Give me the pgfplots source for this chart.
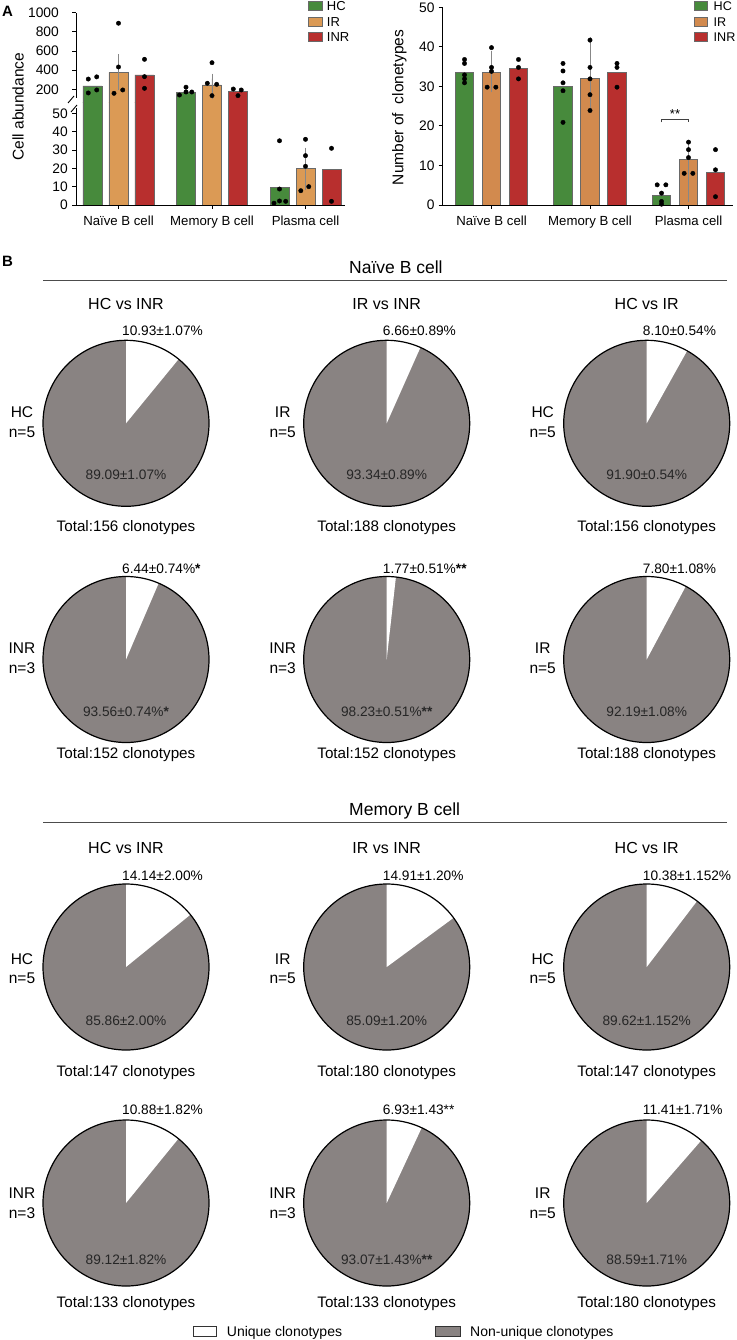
\documentclass[border=0pt]{standalone}
\usepackage{pgfplots}
\pgfplotsset{compat=1.18}
\usepackage{pgfplotstable}
\usepackage{fontspec}
\setmainfont{Liberation Sans}

\definecolor{hcg}{RGB}{71,138,60}
\definecolor{irA}{RGB}{219,154,85}
\definecolor{irB}{RGB}{210,138,78}
\definecolor{inr}{RGB}{184,47,46}
\definecolor{piegray}{RGB}{137,131,130}
\definecolor{errgray}{RGB}{135,135,135}
\definecolor{bordergray}{RGB}{105,105,105}

\newcommand{\fs}[1]{\fontsize{#1pt}{#1pt}\selectfont}

\pgfplotsset{
  barbase/.style={
    scale only axis,
    axis line style={black, line width=0.9pt},
    tick style={black, line width=0.9pt},
    tick align=outside, major tick length=4pt,
    ticklabel style={font=\fs{13.8}, inner sep=0pt},
    /pgf/number format/assume math mode=true,
    /pgf/number format/1000 sep={},
    enlargelimits=false,
    xtick={0,1,2},
    xticklabels={Naïve B cell,Memory B cell,Plasma cell},
    xticklabel style={font=\fs{13.2}, yshift=-7pt},
  },
  errstyle/.style={error bars/.cd, y dir=both, y explicit,
    error bar style={errgray, line width=0.9pt},
    error mark options={errgray, line width=0.9pt, mark size=5pt}},
}

% ---------- Panel A: cell abundance (mean, +err, -err) ----------
\pgfplotstableread{
x y ep em
0 235 35 35
1 165 20 15
}\AupHC
\pgfplotstableread{
x y ep em
0 377 136 136
1 245 66 60
}\AupIR
\pgfplotstableread{
x y ep em
0 350 90 88
1 175 25 25
}\AupINR
\pgfplotstableread{
x y ep em
2 9.5 6.7 6.5
}\AloHC
\pgfplotstableread{
x y ep em
2 20.2 5.4 5.2
}\AloIR
\pgfplotstableread{
x y ep em
2 19.5 9.0 8.6
}\AloINR
\pgfplotstableread{
x y
-0.323 307
-0.233 330
-0.323 162
-0.233 193
0 890
0 433
-0.048 158
0.045 193
0.278 513
0.278 332
0.278 210
0.652 140
0.722 222
0.722 172
0.784 172
1 478
0.95 263
1.05 252
1 134
1.228 203
1.313 193
1.278 134
}\AdotsUp
\pgfplotstableread{
x y
1.722 35
1.722 8.7
1.663 1
1.722 2.2
1.788 2
2 35.8
2 26.9
2 21.1
1.95 7.8
2.035 10
2.278 30.9
2.278 2
}\AdotsLo

% ---------- Panel A: number of clonotypes ----------
\pgfplotstableread{
x y ep em
0 33.6 2.6 2.6
1 30.0 5.8 5.7
2 2.5 2.4 2.5
}\BHC
\pgfplotstableread{
x y ep em
0 33.6 4.2 3.8
1 32.0 9.2 6.8
2 11.5 3.5 3.5
}\BIR
\pgfplotstableread{
x y ep em
0 34.5 2.5 2.6
1 33.5 3.2 3.2
2 8.2 6.0 6.1
}\BINR
\pgfplotstableread{
x y
-0.274 36.8
-0.274 35.8
-0.274 32.9
-0.274 31.9
-0.274 30.9
0.726 35.8
0.726 33.9
0.726 30.9
0.726 28.9
0.726 20.9
1.682 5.1
1.770 5.1
1.726 3.0
1.726 0.9
1.726 0.2
0 39.8
0 34.8
0 33.8
-0.044 29.8
0.044 29.8
1 41.7
1 34.8
1 31.9
1 27.9
1 23.9
2 15.9
2 14.0
2 12.0
1.956 8.0
2.044 8.0
0.274 36.8
0.274 34.8
0.274 31.9
1.274 35.8
1.274 34.8
1.274 29.8
2.274 14.0
2.274 8.9
2.274 2.1
}\Bdots

% ---------- Panel B: pies ----------
\newcommand{\pie}[3]{%
  \begin{axis}[at={(#1pt,-#2pt)}, anchor=center, hide axis, scale only axis,
    width=166pt, height=166pt, xmin=-1, xmax=1, ymin=-1, ymax=1, clip=false]
    \fill[piegray] (axis cs:0,0) circle[radius=83pt];
    \fill[white] (axis cs:0,0) -- ++(90:83pt) arc[start angle=90, delta angle=-3.6*#3, radius=83pt] -- cycle;
    \draw[line width=1.2pt] (axis cs:0,0) circle[radius=83pt];
  \end{axis}}
\newcommand{\cell}[8]{%
  \pie{#1}{#2}{#3}%
  \node[anchor=base west,inner sep=0pt,font=\fs{13.7}] at ({#1pt-4pt},{-\tb}) {#4};
  \node[anchor=base,inner sep=0pt,font=\fs{13.7},text=black!85] at (#1pt,{-\bb}) {#5};
  \node[anchor=base,inner sep=0pt,font=\fs{15.2}] at (#1pt,{-\ob}) {Total:#6 clonotypes};
  \node[anchor=base,inner sep=0pt,font=\fs{15.5}] at ({#1pt-104pt},{-\ra}) {#7};
  \node[anchor=base,inner sep=0pt,font=\fs{15.5}] at ({#1pt-104pt},{-\rb}) {#8};
}

\begin{document}
\begin{tikzpicture}
\useasboundingbox (0,0) rectangle (736pt,-1340pt);

% ===== A left, upper part =====
\begin{axis}[barbase, at={(76pt,-103pt)}, anchor=south west, width=269pt, height=90.3pt,
  xmin=-0.4545, xmax=2.4225, ymin=57, ymax=1000,
  axis x line=none, axis y line*=left,
  ytick={200,400,600,800,1000}, yticklabel style={xshift=-13pt}]
  \addplot[ybar, bar width=19pt, bar shift=-26pt, fill=hcg, draw=bordergray, line width=0.7pt, errstyle]
    table[x=x,y=y,y error plus=ep,y error minus=em] {\AupHC};
  \addplot[ybar, bar width=19pt, bar shift=0pt, fill=irA, draw=bordergray, line width=0.7pt, errstyle]
    table[x=x,y=y,y error plus=ep,y error minus=em] {\AupIR};
  \addplot[ybar, bar width=19pt, bar shift=26pt, fill=inr, draw=bordergray, line width=0.7pt, errstyle]
    table[x=x,y=y,y error plus=ep,y error minus=em] {\AupINR};
  \addplot[only marks, mark=*, mark size=2.2pt, black] table[x=x,y=y] {\AdotsUp};
\end{axis}

% ===== A left, lower part =====
\begin{axis}[barbase, at={(76pt,-205pt)}, anchor=south west, width=269pt, height=102pt,
  xmin=-0.4545, xmax=2.4225, ymin=0, ymax=55.6,
  axis x line*=bottom, axis y line*=left,
  ytick={0,10,20,30,40,50}, yticklabel style={xshift=-4pt}]
  \addplot[ybar, bar width=19pt, bar shift=-26pt, fill=hcg, draw=bordergray, line width=0.7pt]
    table[x=x,y=y] {\AupHC};
  \addplot[ybar, bar width=19pt, bar shift=0pt, fill=irA, draw=bordergray, line width=0.7pt]
    table[x=x,y=y] {\AupIR};
  \addplot[ybar, bar width=19pt, bar shift=26pt, fill=inr, draw=bordergray, line width=0.7pt]
    table[x=x,y=y] {\AupINR};
  \addplot[ybar, bar width=19pt, bar shift=-26pt, fill=hcg, draw=bordergray, line width=0.7pt, errstyle]
    table[x=x,y=y,y error plus=ep,y error minus=em] {\AloHC};
  \addplot[ybar, bar width=19pt, bar shift=0pt, fill=irA, draw=bordergray, line width=0.7pt, errstyle]
    table[x=x,y=y,y error plus=ep,y error minus=em] {\AloIR};
  \addplot[ybar, bar width=19pt, bar shift=26pt, fill=inr, draw=bordergray, line width=0.7pt, errstyle]
    table[x=x,y=y,y error plus=ep,y error minus=em] {\AloINR};
  \addplot[only marks, mark=*, mark size=2.2pt, black] table[x=x,y=y] {\AdotsLo};
\end{axis}

% axis break
\fill[white] (70pt,-98pt) rectangle (80pt,-108pt);
\draw[line width=0.9pt] (68pt,-103pt) -- (74pt,-96pt);
\draw[line width=0.9pt] (71pt,-112pt) -- (77pt,-105pt);

\node[anchor=base west, inner sep=0pt, font=\bfseries\fs{15}] at (2pt,-16.4pt) {A};
\node[rotate=90, inner sep=0pt, font=\fs{15.5}] at (18pt,-106.7pt) {Cell abundance};

% legend A left
\draw[bordergray, line width=0.7pt, fill=hcg] (308pt,-1.5pt) rectangle (322pt,-10.5pt);
\draw[bordergray, line width=0.7pt, fill=irA] (308pt,-17.2pt) rectangle (322pt,-26.2pt);
\draw[bordergray, line width=0.7pt, fill=inr] (308pt,-32.2pt) rectangle (322pt,-41.2pt);
\node[anchor=base west, inner sep=0pt, font=\fs{13}] at (326.7pt,-10.6pt) {HC};
\node[anchor=base west, inner sep=0pt, font=\fs{13}] at (326.7pt,-26.3pt) {IR};
\node[anchor=base west, inner sep=0pt, font=\fs{13}] at (326.7pt,-41.3pt) {INR};

% ===== A right =====
\begin{axis}[barbase, at={(442.7pt,-205pt)}, anchor=south west, width=290pt, height=197.7pt,
  xmin=-0.4954, xmax=2.4487, ymin=0, ymax=50,
  axis x line*=bottom, axis y line*=left,
  ytick={0,10,20,30,40,50}, yticklabel style={xshift=-4pt}]
  \addplot[ybar, bar width=18.5pt, bar shift=-27pt, fill=hcg, draw=bordergray, line width=0.7pt, errstyle]
    table[x=x,y=y,y error plus=ep,y error minus=em] {\BHC};
  \addplot[ybar, bar width=18.5pt, bar shift=0pt, fill=irB, draw=bordergray, line width=0.7pt, errstyle]
    table[x=x,y=y,y error plus=ep,y error minus=em] {\BIR};
  \addplot[ybar, bar width=18.5pt, bar shift=27pt, fill=inr, draw=bordergray, line width=0.7pt, errstyle]
    table[x=x,y=y,y error plus=ep,y error minus=em] {\BINR};
  \addplot[only marks, mark=*, mark size=2.2pt, black] table[x=x,y=y] {\Bdots};
  \draw[line width=0.8pt, black!75] (axis cs:1.726,20.9) -- (axis cs:1.726,21.6) -- (axis cs:2,21.6) -- (axis cs:2,20.9);
  \node[anchor=base, inner sep=0pt, font=\fs{13}] at (axis cs:1.863,21.9) {**};
\end{axis}
\node[rotate=90, inner sep=0pt, font=\fs{15.5}] at (399.3pt,-107.5pt) {Number of~ clonetypes};

% legend A right
\draw[bordergray, line width=0.7pt, fill=hcg] (694.3pt,-1.5pt) rectangle (707.7pt,-10.5pt);
\draw[bordergray, line width=0.7pt, fill=irB] (694.3pt,-17.2pt) rectangle (707.7pt,-26.2pt);
\draw[bordergray, line width=0.7pt, fill=inr] (694.3pt,-32.2pt) rectangle (707.7pt,-41.2pt);
\node[anchor=base west, inner sep=0pt, font=\fs{12.6}] at (713.5pt,-10.6pt) {HC};
\node[anchor=base west, inner sep=0pt, font=\fs{12.6}] at (713.5pt,-26.3pt) {IR};
\node[anchor=base west, inner sep=0pt, font=\fs{12.6}] at (713.5pt,-41.3pt) {INR};

% ===== B =====
\node[anchor=base west, inner sep=0pt, font=\bfseries\fs{15}] at (2pt,-266pt) {B};
\node[anchor=base west, inner sep=0pt, font=\fs{17.5}] at (349pt,-273pt) {Naïve B cell};
\draw[line width=1pt, black!70] (43pt,-280pt) -- (727pt,-280pt);
\node[anchor=base, inner sep=0pt, font=\fs{16}] at (126pt,-309.2pt) {HC vs INR};
\node[anchor=base, inner sep=0pt, font=\fs{16}] at (386.7pt,-309.2pt) {IR vs INR};
\node[anchor=base, inner sep=0pt, font=\fs{16}] at (646.7pt,-309.2pt) {HC vs IR};

% row 1
\def\tb{335.9pt}\def\bb{479.9pt}\def\ob{531.4pt}\def\ra{417.9pt}\def\rb{437.3pt}
\cell{126}{423.3}{10.93}{10.93±1.07\%}{89.09±1.07\%}{156}{HC}{n=5}
\cell{386.7}{423.3}{6.66}{6.66±0.89\%}{93.34±0.89\%}{188}{IR}{n=5}
\cell{646.7}{423.3}{8.10}{8.10±0.54\%}{91.90±0.54\%}{156}{HC}{n=5}

% row 2
\def\tb{573.2pt}\def\bb{716.6pt}\def\ob{758.7pt}\def\ra{653.9pt}\def\rb{673.9pt}
\cell{126}{659.5}{6.44}{6.44±0.74\%\textbf{*}}{93.56±0.74\%\textbf{*}}{152}{INR}{n=3}
\cell{386.7}{659.5}{1.77}{1.77±0.51\%\textbf{**}}{98.23±0.51\%\textbf{**}}{152}{INR}{n=3}
\cell{646.7}{659.5}{7.80}{7.80±1.08\%}{92.19±1.08\%}{188}{IR}{n=5}

% memory section
\node[anchor=base west, inner sep=0pt, font=\fs{17.5}] at (349pt,-815.3pt) {Memory B cell};
\draw[line width=1pt, black!70] (43pt,-822.3pt) -- (727pt,-822.3pt);
\node[anchor=base, inner sep=0pt, font=\fs{16}] at (126pt,-853pt) {HC vs INR};
\node[anchor=base, inner sep=0pt, font=\fs{16}] at (386.7pt,-853pt) {IR vs INR};
\node[anchor=base, inner sep=0pt, font=\fs{16}] at (646.7pt,-853pt) {HC vs IR};

% row 3
\def\tb{880.9pt}\def\bb{1025.9pt}\def\ob{1076.4pt}\def\ra{964.9pt}\def\rb{983.3pt}
\cell{126}{967}{14.14}{14.14±2.00\%}{85.86±2.00\%}{147}{HC}{n=5}
\cell{386.7}{967}{14.91}{14.91±1.20\%}{85.09±1.20\%}{180}{IR}{n=5}
\cell{646.7}{967}{10.38}{10.38±1.152\%}{89.62±1.152\%}{147}{HC}{n=5}

% row 4
\def\tb{1114.9pt}\def\bb{1264.9pt}\def\ob{1307.1pt}\def\ra{1198.9pt}\def\rb{1218.3pt}
\cell{126}{1203}{10.88}{10.88±1.82\%}{89.12±1.82\%}{133}{INR}{n=3}
\cell{386.7}{1203}{6.93}{6.93±1.43**}{93.07±1.43\%\textbf{**}}{133}{INR}{n=3}
\cell{646.7}{1203}{11.41}{11.41±1.71\%}{88.59±1.71\%}{180}{IR}{n=5}

% legend B
\draw[line width=0.8pt, black!80, fill=white] (193.3pt,-1326.7pt) rectangle (216.7pt,-1336pt);
\node[anchor=base west, inner sep=0pt, font=\fs{14}] at (226.7pt,-1336.7pt) {Unique clonotypes};
\draw[line width=0.8pt, black!80, fill=piegray] (435pt,-1326.7pt) rectangle (460pt,-1336pt);
\node[anchor=base west, inner sep=0pt, font=\fs{14}] at (470pt,-1336.7pt) {Non-unique clonotypes};
\end{tikzpicture}
\end{document}
